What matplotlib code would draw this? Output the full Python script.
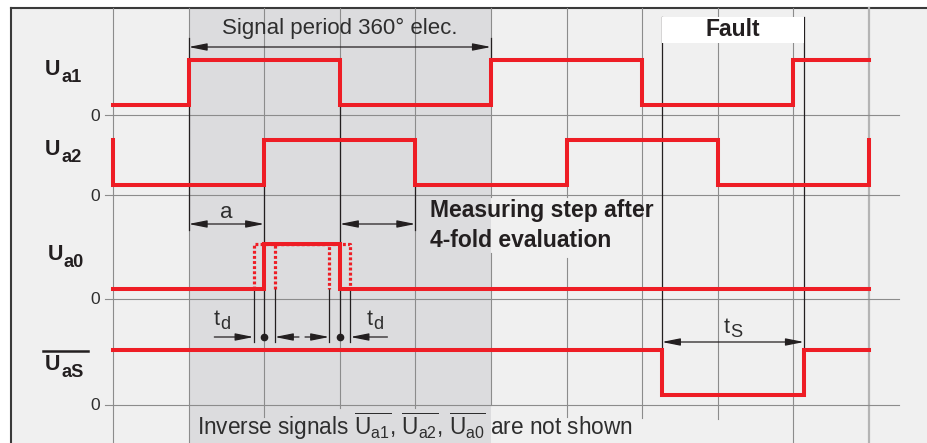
import numpy as np
import matplotlib.pyplot as plt
from matplotlib.patches import Rectangle

# time axis: one grid step = 90 deg elec. (signal period = 4 steps)
grid_t = np.arange(0, 11)

# square waves: switching times and the level after each time (0 low, 1 high)
ua1_t = [0, 1, 3, 5, 7, 9, 10]
ua1_v = [0, 1, 0, 1, 0, 1, 1]
ua2_t = [0, 0, 2, 4, 6, 8, 10, 10]
ua2_v = [1, 0, 1, 0, 1, 0, 0, 1]
ua0_t = [0, 2, 3, 10]
ua0_v = [0, 1, 0, 0]
uas_t = [0, 7.26, 9.14, 10]
uas_v = [1, 0, 1, 1]

td = 0.14                 # jitter of the reference pulse
fault = [7.26, 9.14]      # fault interval t_S

subs = ['a1', 'a2', 'a0', 'aS']

# colours
RED = '#ee1d25'
GRID = '#8c8c8c'
INK = '#231f20'
TXT = '#2e2e2e'
BG = '#f0f0f0'
SHADE = '#dcdcde'

plt.rcParams['font.family'] = ['Liberation Sans', 'DejaVu Sans']
plt.rcParams['mathtext.fontset'] = 'custom'
plt.rcParams['mathtext.rm'] = 'Liberation Sans'
plt.rcParams['mathtext.bf'] = 'Liberation Sans:bold'

# pixel layout
X0, STEP = 113, 75.6
def tx(p):
    return (p - X0) / STEP

zero_y = [115, 195, 299, 405]      # zero line of each channel
def lev(v, ch):
    return zero_y[ch] - 10 - 45 * np.asarray(v, dtype=float)

fig = plt.figure(figsize=(9.27, 4.43), dpi=100)
ax = fig.add_axes([0, 0, 1, 1])
ax.set_xlim(tx(0), tx(927))
ax.set_ylim(443, 0)
ax.axis('off')

# background, shaded period, frame
ax.add_patch(Rectangle((tx(11), 8), tx(927) - tx(11), 440, facecolor=BG, edgecolor='none', zorder=0))
ax.add_patch(Rectangle((1, 8), 4, 440, facecolor=SHADE, edgecolor='none', zorder=0.5))
ax.plot([tx(11), tx(927)], [7.5, 7.5], color='#3a3a3a', lw=1.5, zorder=1)
ax.plot([tx(11), tx(11)], [7.5, 443], color='#3a3a3a', lw=1.5, zorder=1)

# grid (gaps where the labels sit)
gaps = {2: [(417, 443)], 3: [(408, 443)], 4: [(408, 443)],
        5: [(197, 253), (405, 443)], 6: [(197, 258), (417, 443)],
        7: [(418, 443)], 8: [(419, 443)]}
for t in grid_t:
    segs = [8]
    for a, b in gaps.get(t, []):
        segs += [a, b]
    segs.append(443)
    for a, b in zip(segs[::2], segs[1::2]):
        if b > a:
            c = '#b4b4b4' if t == 10 else GRID
            w = 1.6 if t == 10 else 0.8
            ax.plot([t, t], [a, b], color=c, lw=w, zorder=1)
for y in zero_y:
    ax.plot([tx(105), tx(899)], [y, y], color=GRID, lw=0.8, zorder=1)
    ax.text(tx(100), y + 1, '0', ha='right', va='center', fontsize=12.5, color=TXT)

# black reference lines
blk = dict(color=INK, lw=0.9, zorder=2)
ax.plot([1, 1], [38, 230], **blk)
ax.plot([5, 5], [38, lev(1, 0)], **blk)
ax.plot([2, 2], [lev(0, 1), 337], **blk)
ax.plot([3, 3], [lev(0, 0), 337], **blk)
ax.plot([4, 4], [lev(0, 1), 230], **blk)
for x in [2 - td, 2 + td, 3 - td, 3 + td]:
    ax.plot([x, x], [lev(0, 2), 342], **blk)
for x in fault:
    ax.plot([x, x], [17, lev(1, 3)], **blk)

# signals
sig = dict(color=RED, lw=2.9, drawstyle='steps-post', solid_capstyle='projecting',
           solid_joinstyle='miter', zorder=4)
ax.plot(ua1_t, lev(ua1_v, 0), **sig)
ax.plot(ua2_t, lev(ua2_v, 1), **sig)
ax.plot(ua0_t, lev(ua0_v, 2), **sig)
ax.plot(uas_t, lev(uas_v, 3), **sig)
for s in [-td, td]:
    ax.plot([2 + s, 2 + s, 3 + s, 3 + s], lev([0, 1, 1, 0], 2), color=RED, lw=2.3,
            linestyle=(0, (0.9, 0.7)), zorder=3.5)

# dimension arrows
def arrow(x1, x2, y, style='<|-|>'):
    ax.annotate('', xy=(x2, y), xytext=(x1, y), zorder=5,
                arrowprops=dict(arrowstyle=style + ',head_length=1.1,head_width=0.22',
                                color=INK, lw=0.9, shrinkA=0, shrinkB=0, mutation_scale=10))

arrow(1, 5, 47)
arrow(1, 2, 224)
arrow(3, 4, 224)
arrow(fault[0], fault[1], 342)
arrow(2 - td - 0.52, 2 - td, 337, '-|>')
arrow(2 + td + 0.32, 2 + td, 337, '-|>')
arrow(3 - td - 0.32, 3 - td, 337, '-|>')
arrow(3 + td + 0.49, 3 + td, 337, '-|>')
ax.plot([2, 3], [337, 337], 'o', ms=4.5, color=INK, zorder=6)

# fault box
ax.add_patch(Rectangle((fault[0], 17), fault[1] - fault[0], 26, facecolor='white',
                       edgecolor='none', zorder=2.5))
bold = dict(fontweight='bold', color=INK, fontsize=16.5)
ax.text(sum(fault) / 2, 29, 'Fault', ha='center', va='center', zorder=6, **bold)
ax.text(tx(430), 217, 'Measuring step after', ha='left', va='baseline', zorder=6, **bold)
ax.text(tx(430), 247, '4-fold evaluation', ha='left', va='baseline', zorder=6, **bold)

# symbol with a near full size subscript
def symbol(x, base, main, sub, size, dx, dy, weight='normal', color=TXT):
    ax.text(tx(x), base, main, ha='left', va='baseline', fontsize=size,
            fontweight=weight, color=color, zorder=6)
    ax.text(tx(x + dx), base + dy, sub, ha='left', va='baseline', fontsize=size * 0.85,
            fontweight=weight, color=color, zorder=6)

# thin labels
lt = dict(color=TXT, zorder=6)
ax.text(3, 28, 'Signal period 360\u00b0 elec.', ha='center', va='center', fontsize=16, **lt)
ax.text(1.5, 212, 'a', ha='center', va='center', fontsize=16, **lt)
symbol(214, 325, 't', 'd', 15.5, 6.5, 4)
symbol(367, 325, 't', 'd', 15.5, 6.5, 4)
symbol(724, 333, 't', 'S', 15.5, 6.5, 4)
ax.text(tx(197), 435, r'Inverse signals $\overline{\mathrm{U_{a1}}}$, $\overline{\mathrm{U_{a2}}}$, '
        r'$\overline{\mathrm{U_{a0}}}$ are not shown', ha='left', va='baseline', fontsize=16.3, **lt)

# channel names
for sub, base, xl in zip(subs, [75, 155, 260, 370], [45, 45, 48, 45]):
    symbol(xl, base, 'U', sub, 15.5, 16, 7, weight='bold', color=INK)
ax.plot([tx(43), tx(88)], [351, 351], color=INK, lw=1.8, zorder=6)

fig.savefig('out.png', dpi=100)
